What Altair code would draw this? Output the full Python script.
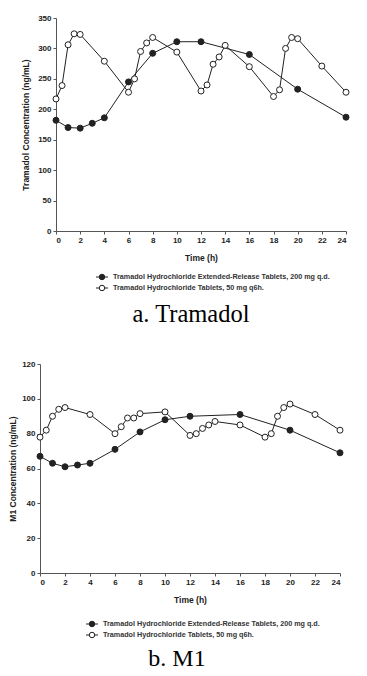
import altair as alt
import pandas as pd

series = ["Tramadol Hydrochloride Extended-Release Tablets, 200 mg q.d.",
          "Tramadol Hydrochloride Tablets, 50 mg q6h."]

hours_er = [0, 1, 2, 3, 4, 6, 8, 10, 12, 16, 20, 24]
hours_ir = [0, 0.5, 1, 1.5, 2, 4, 6, 6.5, 7, 7.5, 8, 10, 12, 12.5, 13, 13.5, 14,
            16, 18, 18.5, 19, 19.5, 20, 22, 24]

tram_er = [182, 170, 169, 177, 186, 245, 292, 311, 311, 290, 233, 187]
tram_ir = [217, 239, 306, 324, 323, 279, 228, 250, 295, 309, 318, 294, 230, 240,
           274, 286, 305, 270, 221, 232, 300, 318, 316, 271, 228]

m1_er = [67, 63, 61, 62, 63, 71, 81, 88, 90, 91, 82, 69]
m1_ir = [78, 82, 90, 94, 95, 91, 80, 84, 89, 89, 91.5, 92.5, 79, 80, 83, 85, 87,
         85, 78, 80, 90, 95, 97, 91, 82]

x_ticks = list(range(0, 25, 2))
tram_ticks = list(range(0, 351, 50))
m1_ticks = list(range(0, 121, 20))

FONT = "Liberation Sans"
INK = "#222222"
AX = "#555555"


def panel(er, ir, ymax, yticks, ytitle, caption, width, height, xrange, yoffset,
          ytpad, leg_x, leg_rows, cap_x, cap_y, cap_size):
    df = pd.DataFrame({
        "t": hours_er + hours_ir,
        "c": er + ir,
        "s": [series[0]] * len(er) + [series[1]] * len(ir),
    })
    xenc = alt.X("t:Q", scale=alt.Scale(domain=[0, 24], nice=False, range=xrange),
                 axis=alt.Axis(values=x_ticks, title="Time (h)", format="d",
                               titlePadding=9))
    yenc = alt.Y("c:Q", scale=alt.Scale(domain=[0, ymax], nice=False),
                 axis=alt.Axis(values=yticks, title=ytitle, offset=yoffset,
                               titlePadding=ytpad))
    base = alt.Chart(df)
    lines = base.mark_line(color=INK, strokeWidth=1).encode(
        x=xenc, y=yenc, detail="s:N")
    pts = base.mark_point(shape="circle", size=36, opacity=1, stroke=INK,
                          strokeWidth=1).encode(
        x=xenc, y=yenc,
        fill=alt.Fill("s:N", scale=alt.Scale(domain=series, range=[INK, "white"]),
                      legend=None))
    layers = [lines, pts]
    for i, lab in enumerate(series):
        one = alt.Chart(pd.DataFrame({"label": [lab]}))
        layers.append(one.mark_rule(color=INK, strokeWidth=1).encode(
            x=alt.value(leg_x), x2=alt.value(leg_x + 12), y=alt.value(leg_rows[i])))
        layers.append(one.mark_point(shape="circle", size=30, opacity=1,
                                     stroke=INK, strokeWidth=1,
                                     fill=INK if i == 0 else "white").encode(
            x=alt.value(leg_x + 6), y=alt.value(leg_rows[i])))
        layers.append(one.mark_text(align="left", baseline="middle", font=FONT,
                                    fontSize=7.2, fontWeight="bold",
                                    color="#333333").encode(
            text="label:N", x=alt.value(leg_x + 17), y=alt.value(leg_rows[i])))
    cap = alt.Chart(pd.DataFrame({"label": [caption]})).mark_text(
        align="center", baseline="alphabetic", font="Liberation Serif",
        fontSize=cap_size, color="black").encode(
        text="label:N", x=alt.value(cap_x), y=alt.value(cap_y))
    layers.append(cap)
    return alt.layer(*layers).properties(width=width, height=height)


top = panel(tram_er, tram_ir, 350, tram_ticks, "Tramadol Concentration (ng/mL)",
            "a. Tramadol", 306, 213, [16, 306], -16, 7, 56, [259, 270], 151, 304,
            24.5)
bottom = panel(m1_er, m1_ir, 120, m1_ticks, "M1 Concentration (ng/mL)",
               "b. M1", 300, 209, [0, 300], 0, 4, 46, [260, 271], 137, 302, 24)

chart = alt.vconcat(top, bottom, spacing=133, bounds="flush").properties(
    padding={"left": 0, "top": 6, "right": 0, "bottom": 0}
).configure_view(stroke=None).configure_axis(
    labelFont=FONT, labelFontSize=8, labelFontWeight="bold", labelColor="#222222",
    titleFont=FONT, titleFontSize=8.5, titleFontWeight="bold", titleColor="#222222",
    domainColor=AX, tickColor=AX, tickSize=3, labelPadding=2, grid=False,
)

chart.save("out.html", embed_options={"renderer": "svg", "actions": False})
